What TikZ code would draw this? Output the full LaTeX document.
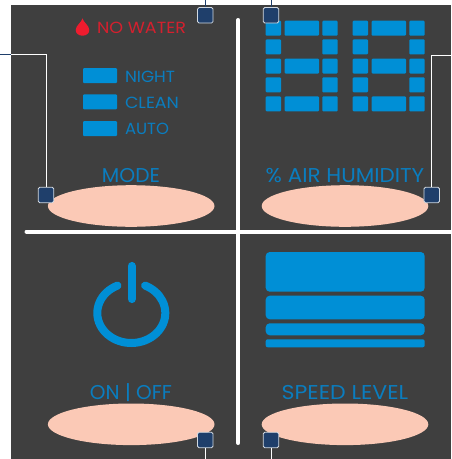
\documentclass[tikz,border=0pt]{standalone}
\usepackage{fontspec}
\usepackage{graphicx}
\usetikzlibrary{shapes.geometric}
\newfontfamily\panelfont{Poppins}
\definecolor{panel}{HTML}{3F3F3F}
\definecolor{ledblue}{HTML}{008FD6}
\definecolor{txtblue}{HTML}{0A7DBF}
\definecolor{navy}{HTML}{1F3F6B}
\definecolor{peach}{HTML}{FBC9B6}
\definecolor{drop}{HTML}{EE1C2E}
\definecolor{redtxt}{HTML}{D4202E}
\newcommand{\fitlab}[3]{\resizebox{#1pt}{#2pt}{\panelfont\raisebox{0pt}[7pt][0pt]{#3}}}
\tikzset{
  pad/.style={ellipse,fill=peach,inner sep=0pt,minimum width=166.6pt,minimum height=41.6pt},
  pin/.style={rectangle,rounded corners=1.5pt,fill=navy,draw=white!80!navy,line width=0.8pt,inner sep=0pt,minimum size=15.5pt},
  wire/.style={draw=white,line width=1pt},
  navywire/.style={draw=navy,line width=1pt},
  lab/.style={inner sep=0pt,outer sep=0pt,text=txtblue},
  led/.style={fill=ledblue,rounded corners=#1},
  led/.default=1pt,
  divider/.style={draw=white,line width=4pt,line cap=round}
}
\begin{document}
\begin{tikzpicture}[x=1pt,y=-1pt]
\useasboundingbox (0,0) rectangle (451,459);
\fill[white] (0,0) rectangle (451,459);
\fill[panel] (11,5) rectangle (451,459);
% dividers
\coordinate (hl) at (26.5,231.5); \coordinate (hr) at (451,231.5);
\coordinate (vt) at (238.3,20); \coordinate (vb) at (238.3,443);
\draw[divider] (vt) -- (vb);
\draw[divider] (hl) -- (hr);
% pads
\node[pad] (padmode) at (131.2,206) {};
\node[pad] (padhum) at (345,206) {};
\node[pad] (padon) at (131.2,424.3) {};
\node[pad] (padspeed) at (345,424.3) {};
% labels
\node[lab,text=redtxt,anchor=west] (nowater) at (97,27.4) {\fitlab{89}{11.3}{NO WATER}};
\node[lab,anchor=west] (night) at (125,76.4) {\fitlab{50}{11.3}{NIGHT}};
\node[lab,anchor=west] (clean) at (125,102.4) {\fitlab{54}{11.3}{CLEAN}};
\node[lab,anchor=west] (auto) at (125,128.4) {\fitlab{44}{11.3}{AUTO}};
\node[lab] (mode) at (131,175) {\fitlab{58}{14}{MODE}};
\node[lab] (hum) at (345,175) {\fitlab{158.5}{14}{\% AIR HUMIDITY}};
\node[lab] (onoff) at (131,392) {\fitlab{82}{14}{ON | OFF}};
\node[lab] (speed) at (345,392) {\fitlab{126.5}{14}{SPEED LEVEL}};
% drop
\fill[drop] (82.5,18.3) .. controls (83.5,22.5) and (89.3,25.5) .. (89.3,30) .. controls (89.3,33.5) and (86.3,35.7) .. (82.5,35.7) .. controls (78.7,35.7) and (75.7,33.5) .. (75.7,30) .. controls (75.7,25.5) and (81.5,22.5) .. (82.5,18.3) -- cycle;
% mode bars
\fill[led] (83,68) rectangle (117,83);
\fill[led] (83,94.3) rectangle (117,109.3);
\fill[led] (83,121) rectangle (117,136);
% digits
\foreach \ox in {0,87}{
  \foreach \ya/\yb in {20.7/35.7,39.3/54.3,58.7/73.5,77.3/92.3,96.3/111.3}{
    \fill[led] (265.7+\ox,\ya) rectangle (281+\ox,\yb);
    \fill[led] (322.3+\ox,\ya) rectangle (337.7+\ox,\yb);
  }
  \foreach \ya/\yb in {20.7/35.7,58.7/73.5,96.3/111.3}{
    \fill[led] (284.7+\ox,\ya) rectangle (319+\ox,\yb);
  }
}
% speed bars
\fill[led=4pt] (265.7,252) rectangle (424.7,291.7);
\fill[led=4pt] (265.7,295.7) rectangle (424.7,319.3);
\fill[led=4pt] (265.7,323.3) rectangle (424.7,335.3);
\fill[led=2pt] (265.7,339.3) rectangle (424.7,347.3);
% power icon
\coordinate (pc) at (131.3,313);
\draw[draw=ledblue,line width=8pt,line cap=round] ([shift={(-114:34 and 30)}]pc) arc[start angle=-114,end angle=-426,x radius=34,y radius=30];
\draw[draw=ledblue,line width=8.2pt,line cap=round] (131.7,266) -- (131.7,299);
% pins
\node[pin] (pintop1) at (205.3,15.3) {};
\node[pin] (pintop2) at (271,15.3) {};
\node[pin] (pinmode) at (46,195) {};
\node[pin] (pinhum) at (431.7,195) {};
\node[pin] (pinon) at (205.3,440) {};
\node[pin] (pinspeed) at (271,440) {};
% connector ends
\coordinate (ft1) at (205.3,0);
\coordinate (ft2) at (271,0);
\coordinate (fl) at (0,54.5);
\coordinate (flp) at (11,54.5);
\coordinate (fr) at (451,55.5);
\coordinate (fb1) at (205.3,459);
\coordinate (fb2) at (271,459);
\draw[wire] (pinmode.north) |- (flp);
\draw[navywire] (flp) -- (fl);
\draw[wire] (pinhum.north) |- (fr);
\draw[wire] (pinon.south) -- (fb1);
\draw[wire] (pinspeed.south) -- (fb2);
\draw[navywire] (pintop1.north) -- (ft1);
\draw[navywire] (pintop2.north) -- (ft2);
\end{tikzpicture}
\end{document}
